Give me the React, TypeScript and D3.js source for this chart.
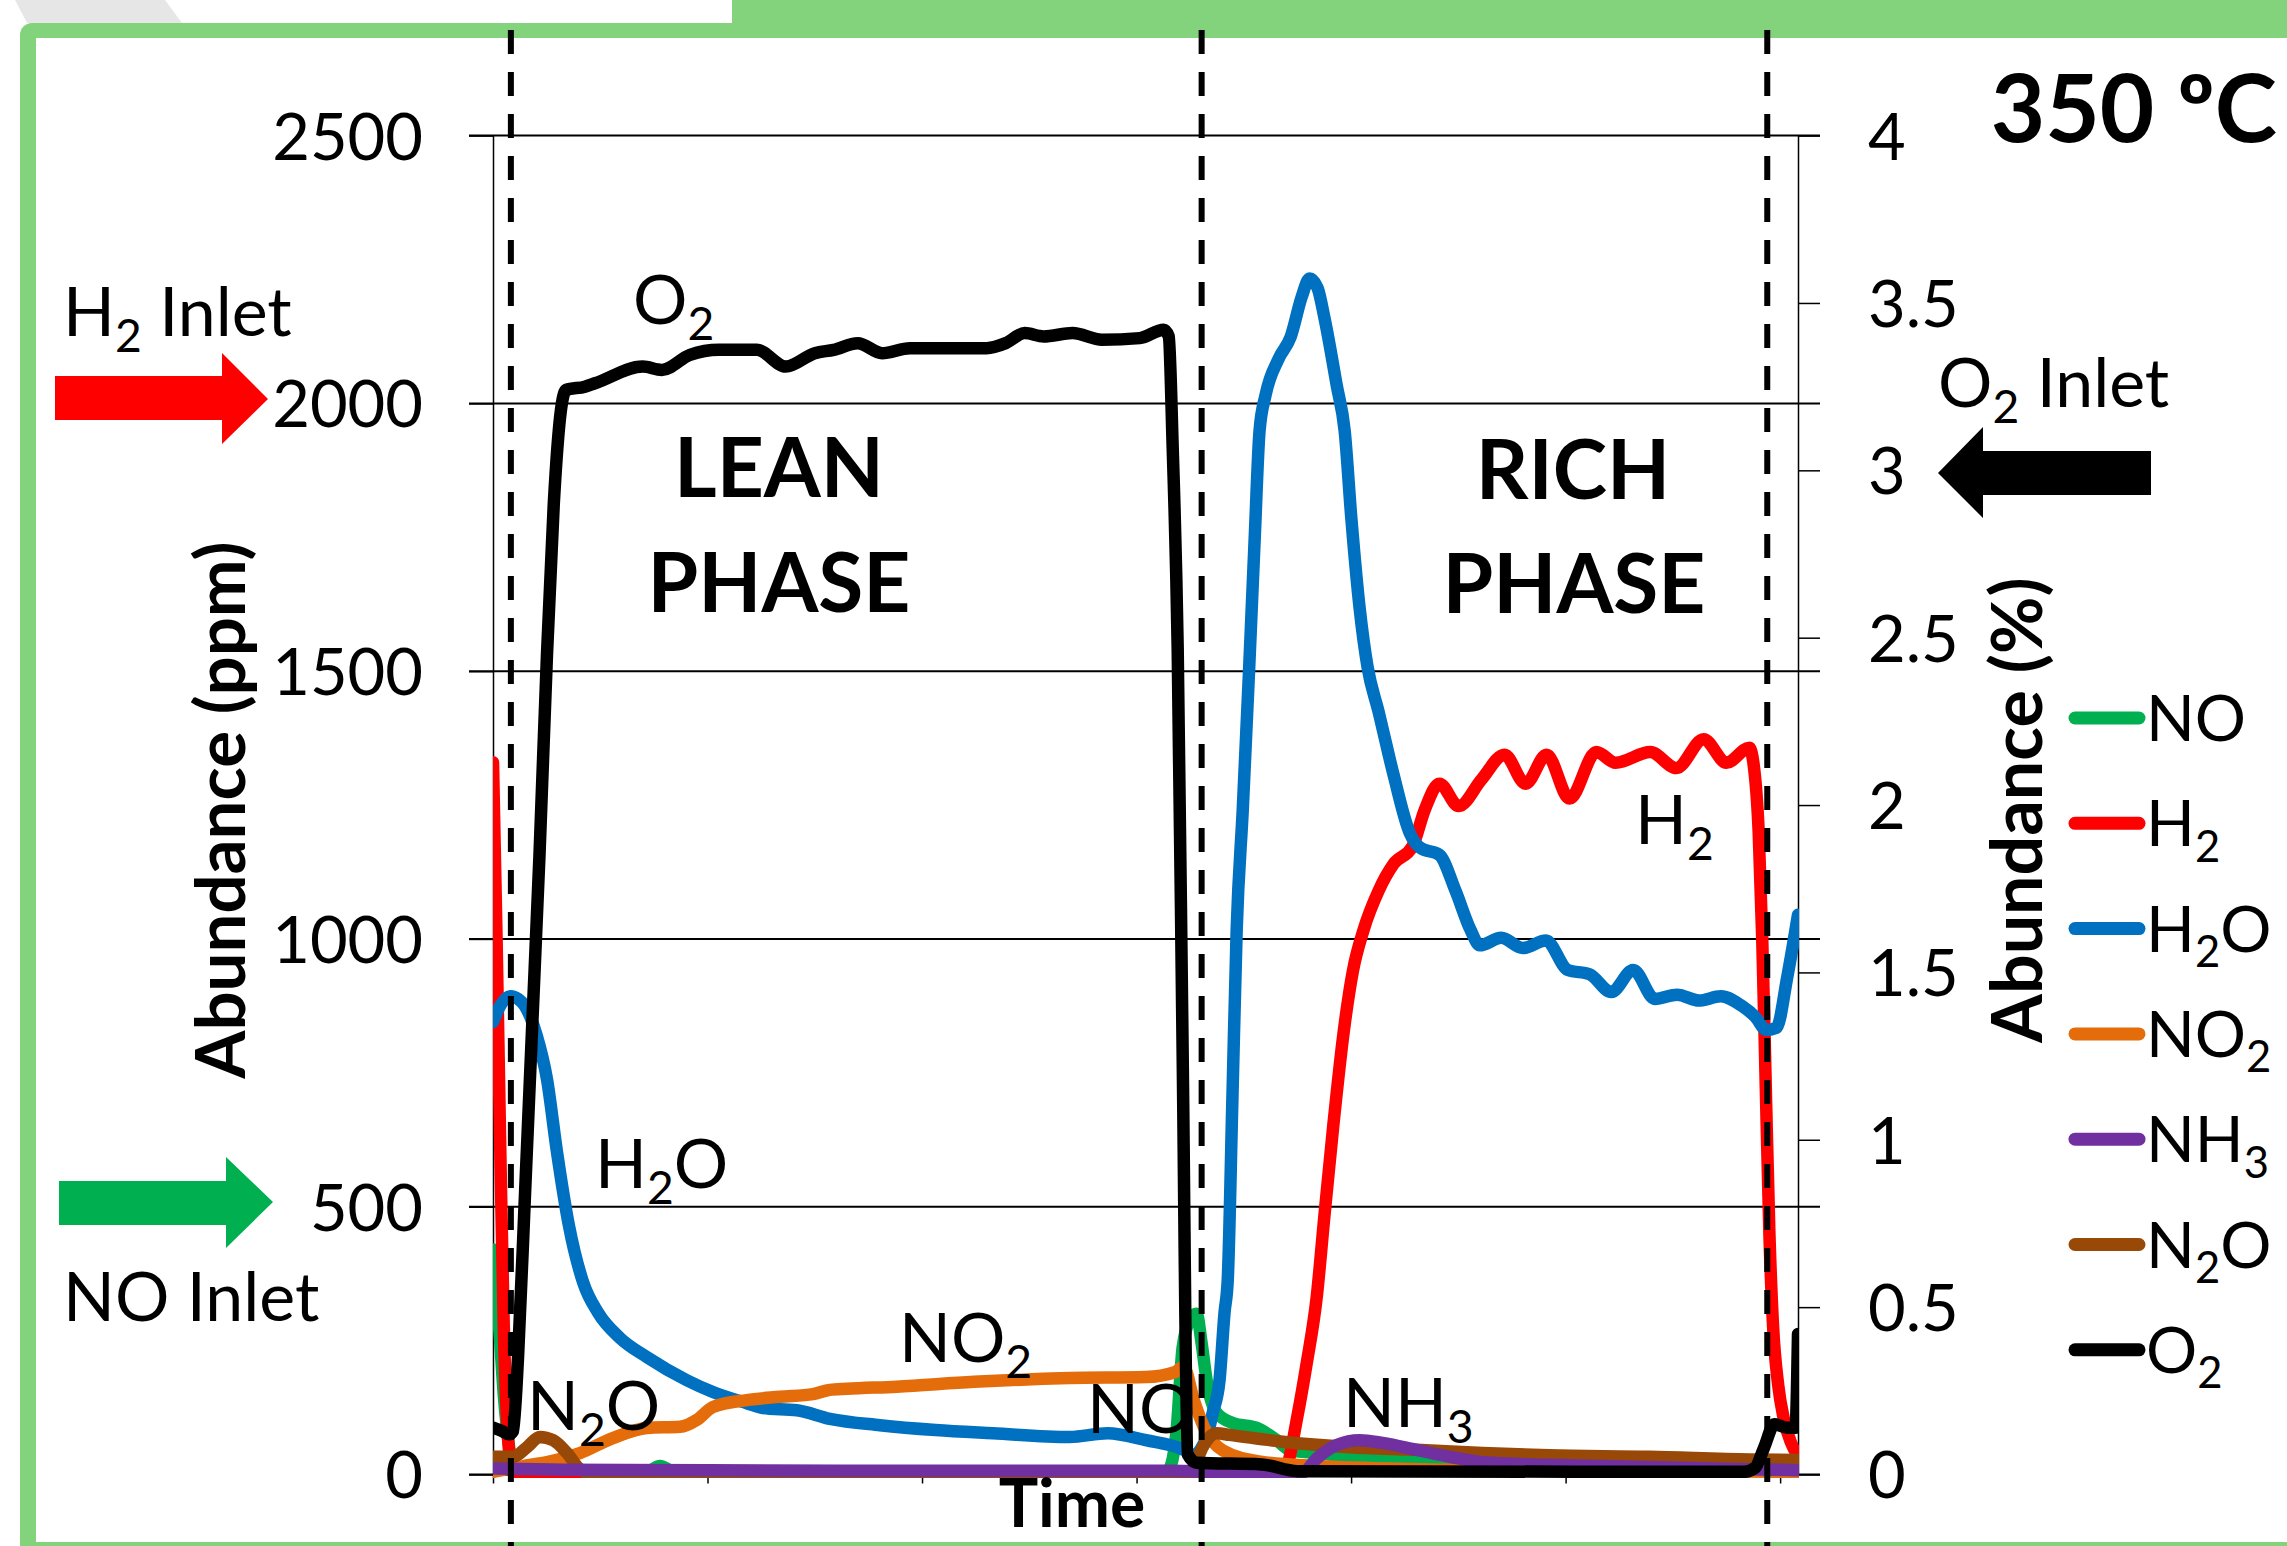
import React, { useEffect, useRef } from 'react';
import * as d3 from 'd3';

type Pt = [number, number];

// outlet traces: [time (s), ppm]; O2 is in % (right axis)
const noTrace: Pt[] = [
  [0, 420], [1, 340], [2, 250], [3, 150], [4, 80], [5, 30], [6, 8], [8, 3], [40, 3], [44, 8],
  [46.7, 16], [49.5, 8], [53, 3], [120, 2], [188, 3], [189.5, 15], [191.2, 83], [192.9, 238],
  [195, 290], [196.8, 300], [198.2, 245], [199.6, 176], [202.4, 115], [206.9, 96], [213.6, 87],
  [219.2, 64], [222.8, 46], [230.4, 40], [248.8, 27], [267.5, 21], [300, 15], [340, 12], [365, 10],
];

const h2Trace: Pt[] = [
  [0, 1330], [1, 1000], [2, 620], [3, 280], [4, 90], [5, 20], [6, 3], [8, 0], [220, 0], [222, 14],
  [224.8, 102], [227.6, 208], [230.4, 332], [232.5, 480], [235, 650], [238, 830], [240.5, 940],
  [243.5, 1017], [247.7, 1090], [251.9, 1140], [257.2, 1173], [260.6, 1241], [264.7, 1290],
  [270.1, 1248], [276.5, 1298], [282.9, 1344], [288.8, 1290], [294.7, 1344], [301.1, 1262],
  [308.6, 1349], [314, 1329], [323.7, 1349], [331, 1319], [338.6, 1373], [345, 1329], [351.4, 1357],
  [352.5, 1330], [354, 1200], [355, 1000], [356, 720], [357, 450], [358, 280], [359.5, 165],
  [361, 105], [363, 60], [365, 35],
];

const h2oTrace: Pt[] = [
  [0, 845], [2, 875], [4.9, 893], [7, 888], [9, 874], [12.2, 820], [15.1, 738], [17.9, 602],
  [21.2, 466], [25.3, 357], [29.4, 302], [35.5, 255], [43.1, 219], [54.2, 176], [61.5, 154],
  [71, 133], [75.5, 124], [85, 120], [94.2, 104], [108.2, 92], [123.8, 83], [139.8, 77],
  [161.3, 70], [171.9, 77], [182.6, 64], [193.2, 46], [196, 36], [198, 48], [200, 78],
  [201.3, 115], [203.2, 176], [204.6, 302], [205.5, 363], [206.8, 700], [208, 1017], [209.7, 1241],
  [211.4, 1491], [213, 1741], [214.4, 1949], [216.1, 2016], [219.7, 2083], [223.1, 2124],
  [226.2, 2199], [228.4, 2233], [230.6, 2216], [232.6, 2158], [236, 2033], [238.2, 1949],
  [240.1, 1783], [242.4, 1617], [244.6, 1508], [247.7, 1424], [251.9, 1306], [256.4, 1198],
  [259.4, 1170], [264.7, 1157], [269.2, 1090], [273.4, 1017], [276, 988], [282, 1002], [288, 983],
  [294.5, 997], [300.6, 942], [306.7, 934], [312.8, 901], [318.9, 942], [325, 888], [331.2, 896],
  [337.3, 885], [343.4, 893], [349.5, 874], [353, 855], [356.2, 830], [359, 834], [362, 929],
  [365, 1045],
];

const no2Trace: Pt[] = [
  [0, 5], [5.6, 12], [10.3, 18], [15.1, 23], [24.3, 40], [33.5, 68], [43.1, 87], [52.3, 89],
  [57, 102], [61.5, 126], [71, 139], [80.2, 145], [89.5, 150], [94.2, 158], [99, 160],
  [112.9, 164], [134.5, 173], [161.3, 180], [182.6, 182], [190.7, 191], [193.2, 201], [196, 139],
  [198.8, 89], [204.1, 45], [214.7, 24], [230.6, 16], [260, 10], [300, 7], [365, 5],
];

const nh3Trace: Pt[] = [
  [0, 11], [20, 9], [60, 8], [120, 7], [190, 7], [196, 6], [202.4, 2], [220.9, 2], [226.5, 4],
  [230.4, 30], [236, 55], [242.4, 64], [248.8, 59], [258.3, 46], [267.5, 33], [276.8, 23],
  [295.5, 18], [323.5, 14], [350, 10], [365, 8],
];

const n2oTrace: Pt[] = [
  [0, 33], [5.6, 33], [9.5, 51], [13.1, 70], [16.8, 64], [20.7, 40], [24.3, 10], [28, 1], [40, 0],
  [120, 0], [190, 0], [194.9, 2], [196.8, 25], [198.5, 51], [202.4, 77], [206, 74], [220.9, 61],
  [239.6, 51], [258.3, 46], [276.8, 40], [295.5, 36], [323.5, 33], [351.4, 28], [365, 27],
];

const o2Trace: Pt[] = [
  [0, 0.14], [2.5, 0.13], [4.5, 0.12], [5.6, 0.13], [7, 0.35], [9, 0.85], [11, 1.35], [13, 1.85],
  [15.1, 2.45], [17, 2.9], [19, 3.18], [20.4, 3.24], [25.7, 3.25], [28.5, 3.26], [41.9, 3.31],
  [47.2, 3.3], [55.1, 3.345], [63.2, 3.36], [73.8, 3.36], [81.9, 3.31], [90, 3.35], [95.3, 3.36],
  [102, 3.38], [108.8, 3.35], [116.6, 3.365], [138.1, 3.365], [143.4, 3.38], [148.7, 3.41],
  [154, 3.4], [162.1, 3.41], [170.3, 3.39], [180.9, 3.395], [187.6, 3.42], [189, 3.4],
  [190.1, 3.07], [191.5, 2.47], [192.9, 1.25], [194.3, 0.06], [196.8, 0.035], [215, 0.03],
  [225, 0.01], [350, 0.008], [353, 0.02], [355.5, 0.08], [358.4, 0.15], [362, 0.14], [364.3, 0.14],
  [365, 0.42],
];

const seriesNames = ['NO', 'H_2', 'H_2O', 'NO_2', 'NH_3', 'N_2O', 'O_2'];
const seriesData = [noTrace, h2Trace, h2oTrace, no2Trace, nh3Trace, n2oTrace, o2Trace];
const seriesColors = ['#00B050', '#FF0000', '#0070C0', '#E46C0A', '#7030A0', '#984807', '#000000'];
// paint order (NH3 sits over N2O along the baseline), O2 last
const drawOrder = [0, 1, 2, 3, 5, 4, 6];

const ppmTicks = [0, 500, 1000, 1500, 2000, 2500];
const pctTicks = [0, 0.5, 1, 1.5, 2, 2.5, 3, 3.5, 4];
const timeTicks = [0, 60, 120, 180, 240, 300, 360];
const phaseSwitch = [5, 198.2, 356.4];

const W = 2287;
const H = 1546;
const FONT = 'Lato, "Open Sans", sans-serif';
const GREEN = '#83D27C';

// text with "_2" style subscripts
function putText(g: any, str: string, x: number, y: number, size: number,
  bold = false, anchor = 'start', rotate = false) {
  const t = g.append('text')
    .attr('x', x).attr('y', y)
    .attr('font-family', FONT)
    .attr('font-size', size)
    .attr('font-weight', bold ? 700 : 400)
    .attr('text-anchor', anchor)
    .attr('fill', '#000');
  if (rotate) t.attr('transform', `rotate(-90 ${x} ${y})`);
  const parts = str.split(/_(\d)/);
  let down = false;
  parts.forEach((p, i) => {
    if (!p) return;
    if (i % 2 === 1) {
      t.append('tspan').attr('dy', size * 0.24).attr('font-size', size * 0.68).text(p);
      down = true;
    } else {
      const s = t.append('tspan').text(p);
      if (down) { s.attr('dy', -size * 0.24); down = false; }
    }
  });
  return t;
}

export default function App() {
  const ref = useRef<SVGSVGElement>(null);

  useEffect(() => {
    document.body.style.margin = '0';
    const svg = d3.select(ref.current);
    svg.selectAll('*').remove();

    const x = d3.scaleLinear().domain([0, 365]).range([493, 1798]);
    const yL = d3.scaleLinear().domain([0, 2500]).range([1474.5, 135.6]);
    const yR = d3.scaleLinear().domain([0, 4]).range([1474.5, 135.6]);

    svg.append('rect').attr('width', W).attr('height', H).attr('fill', '#fff');

    // slide frame
    svg.append('polygon').attr('points', '15,0 165,0 182,23 27,23').attr('fill', '#E6E6E6');
    svg.append('rect').attr('x', 732).attr('y', 0).attr('width', W - 732).attr('height', 40).attr('fill', GREEN);
    svg.append('rect').attr('x', 20).attr('y', 23).attr('width', 2400).attr('height', 1600)
      .attr('rx', 12).attr('fill', GREEN);
    svg.append('rect').attr('x', 36).attr('y', 38).attr('width', 2400).attr('height', 1504).attr('fill', '#fff');

    // gridlines
    svg.append('g').selectAll('line').data(ppmTicks).enter().append('line')
      .attr('x1', x(0) - 24).attr('x2', x(365) + 22)
      .attr('y1', d => yL(d)).attr('y2', d => yL(d))
      .attr('stroke', '#000').attr('stroke-width', 2);

    const styleAxis = (g: any) => {
      g.attr('font-family', FONT).attr('font-size', 65);
      g.selectAll('path').attr('stroke', '#000').attr('stroke-width', 1.5);
      g.selectAll('line').attr('stroke', '#000').attr('stroke-width', 1.5);
      g.selectAll('text').attr('fill', '#000');
    };

    const left = svg.append('g').attr('transform', `translate(${x(0)},0)`)
      .call(d3.axisLeft(yL).tickValues(ppmTicks).tickSize(24).tickSizeOuter(0).tickPadding(46)
        .tickFormat((d: any) => String(d)));
    styleAxis(left);
    left.selectAll('text').attr('dy', '0.36em');

    const right = svg.append('g').attr('transform', `translate(${x(365)},0)`)
      .call(d3.axisRight(yR).tickValues(pctTicks).tickSize(22).tickSizeOuter(0).tickPadding(48)
        .tickFormat((d: any) => String(d)));
    styleAxis(right);
    right.selectAll('text').attr('dy', '0.36em');

    const bottom = svg.append('g').attr('transform', `translate(0,${yL(0)})`)
      .call(d3.axisBottom(x).tickValues(timeTicks).tickSize(9).tickSizeOuter(0).tickFormat(() => ''));
    styleAxis(bottom);

    // traces
    const clip = svg.append('defs').append('clipPath').attr('id', 'plotclip');
    clip.append('rect').attr('x', x(0)).attr('y', 125).attr('width', x(365) - x(0) + 1).attr('height', 1353);

    const plot = svg.append('g').attr('clip-path', 'url(#plotclip)');
    drawOrder.forEach((i) => {
      const yS = i === 6 ? yR : yL;
      const line = d3.line<Pt>().x(d => x(d[0])).y(d => yS(d[1])).curve(d3.curveMonotoneX);
      plot.append('path').attr('d', line(seriesData[i]) as string)
        .attr('fill', 'none').attr('stroke', seriesColors[i]).attr('stroke-width', 12.5)
        .attr('stroke-linejoin', 'round').attr('stroke-linecap', 'round');
    });

    // annotations
    const ann = svg.append('g');
    putText(ann, '350 ºC', 2277, 142, 94, true, 'end');
    putText(ann, 'H_2 Inlet', 63, 336, 68);
    putText(ann, 'NO Inlet', 63, 1321, 68);
    putText(ann, 'O_2 Inlet', 1938, 407, 68);
    putText(ann, 'LEAN', 779, 497, 82, true, 'middle');
    putText(ann, 'PHASE', 779, 612, 82, true, 'middle');
    putText(ann, 'RICH', 1573, 499, 82, true, 'middle');
    putText(ann, 'PHASE', 1574, 613, 82, true, 'middle');
    putText(ann, 'O_2', 633, 324, 68);
    putText(ann, 'H_2O', 595, 1188, 68);
    putText(ann, 'N_2O', 527, 1430, 68);
    putText(ann, 'NO_2', 899, 1362, 68);
    putText(ann, 'NO', 1087, 1433, 68);
    putText(ann, 'NH_3', 1343, 1427, 68);
    putText(ann, 'H_2', 1635, 844, 68);
    putText(ann, 'Time', 1072, 1527, 66, true, 'middle');
    putText(ann, 'Abundance (ppm)', 245, 810, 69, true, 'middle', true);
    putText(ann, 'Abundance (%)', 2042, 810, 70, true, 'middle', true);

    // inlet arrows
    ann.append('polygon').attr('points', '55,376 222,376 222,353 268,399 222,444 222,420 55,420').attr('fill', '#FF0000');
    ann.append('polygon').attr('points', '59,1181 226,1181 226,1157 273,1202 226,1248 226,1225 59,1225').attr('fill', '#00B050');
    ann.append('polygon').attr('points', '1938,473 1983,427 1983,451 2151,451 2151,495 1983,495 1983,518').attr('fill', '#000');

    // legend
    const leg = svg.append('g');
    seriesNames.forEach((name, i) => {
      const ly = 718 + i * 105.3;
      leg.append('line').attr('x1', 2075).attr('x2', 2139).attr('y1', ly).attr('y2', ly)
        .attr('stroke', seriesColors[i]).attr('stroke-width', 13).attr('stroke-linecap', 'round');
      putText(leg, name, 2146, ly + 23, 64);
    });

    // phase switch markers
    svg.append('g').selectAll('line').data(phaseSwitch).enter().append('line')
      .attr('x1', d => x(d)).attr('x2', d => x(d)).attr('y1', 30).attr('y2', H)
      .attr('stroke', '#000').attr('stroke-width', 6).attr('stroke-dasharray', '24 18');
  }, []);

  return <svg ref={ref} width={W} height={H} style={{ display: 'block' }} />;
}
